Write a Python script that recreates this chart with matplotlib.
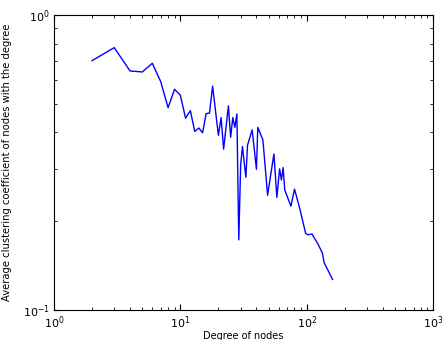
import matplotlib
matplotlib.use('Agg')
import matplotlib.pyplot as plt
from matplotlib.ticker import NullFormatter

# degree k and average clustering coefficient C(k)
degree = [2, 3, 4, 5, 6, 7, 8, 9, 10, 11, 12, 13, 14, 15, 16, 17, 18,
          20, 21, 22, 24, 25, 26, 27, 28, 29, 30, 31, 33, 34, 37, 40, 41,
          45, 49, 55, 58, 61, 63, 65, 67, 75, 80, 88, 98, 102, 110, 123,
          133, 137, 160]
clustering = [0.70, 0.775, 0.646, 0.641, 0.686, 0.594, 0.485, 0.560, 0.535,
              0.447, 0.474, 0.403, 0.414, 0.399, 0.463, 0.465, 0.574,
              0.391, 0.449, 0.351, 0.492, 0.385, 0.449, 0.416, 0.462, 0.173,
              0.310, 0.358, 0.282, 0.362, 0.408, 0.300, 0.416,
              0.377, 0.245, 0.338, 0.241, 0.301, 0.276, 0.304, 0.255, 0.225,
              0.257, 0.221, 0.182, 0.180, 0.181, 0.167,
              0.156, 0.145, 0.127]

fig = plt.figure(figsize=(4.42, 3.4), dpi=100)
ax = fig.add_axes([0.122, 0.088, 0.858, 0.868])

ax.plot(degree, clustering, color='b', linewidth=1)
ax.set_xscale('log')
ax.set_yscale('log')
ax.set_xlim(1, 1000)
ax.set_ylim(0.1, 1)
ax.xaxis.set_minor_formatter(NullFormatter())
ax.yaxis.set_minor_formatter(NullFormatter())

ax.tick_params(which='both', direction='in', top=True, right=True, labelsize=8)
ax.tick_params(which='major', length=4, pad=3)
ax.tick_params(which='minor', length=2)
ax.set_xlabel('Degree of nodes', fontsize=7)
ax.set_ylabel('Average clustering coefficient of nodes with the degree', fontsize=7.2)
ax.xaxis.set_label_coords(0.5, -0.07)
ax.yaxis.set_label_coords(-0.111, 0.5)

plt.savefig('out.png', dpi=100)
